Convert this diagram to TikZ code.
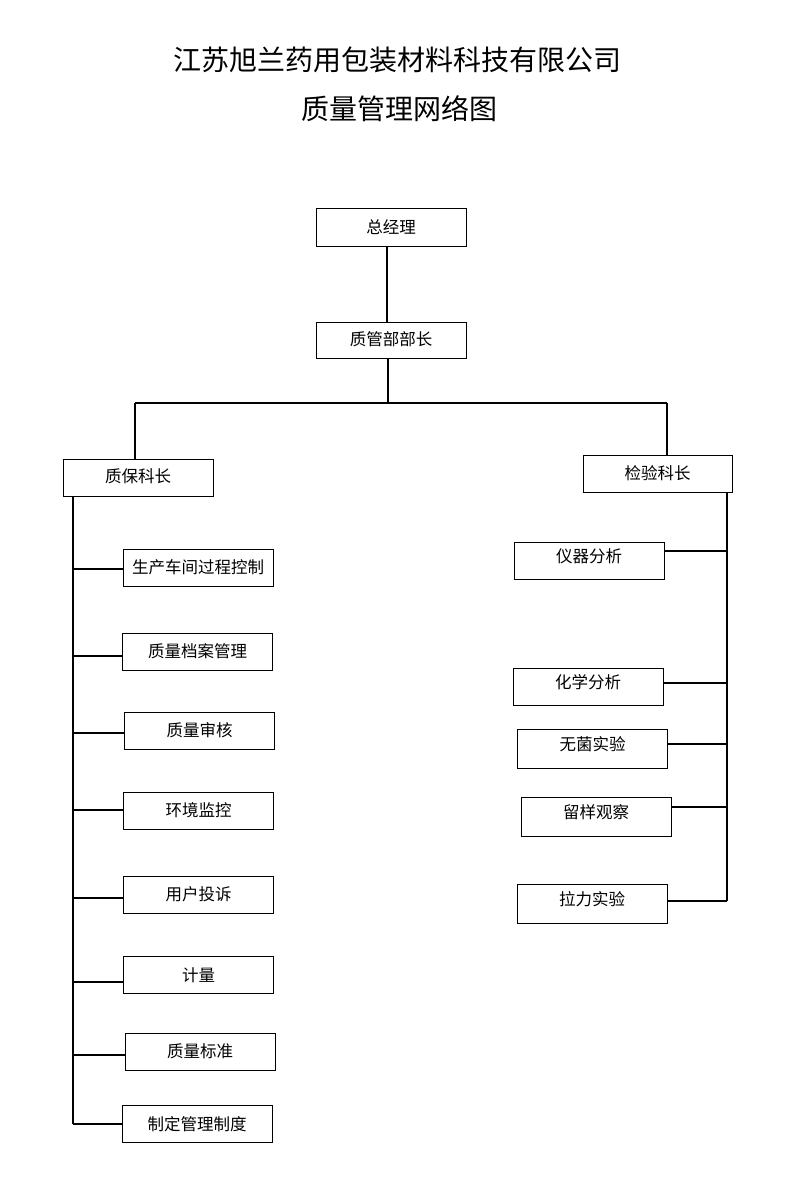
\documentclass[tikz,border=0pt]{standalone}
\usepackage{fontspec}
\setmainfont{Noto Sans CJK SC}
\begin{document}
\begin{tikzpicture}[x=1pt,y=-1pt,
  box/.style={draw=black, line width=1pt, fill=white, inner sep=0pt,
    minimum width=150pt, minimum height=37pt, font=\fontsize{16.5pt}{18pt}\selectfont},
  hi/.style={text height=9pt, text depth=5.4pt},
  conn/.style={draw=black, line width=1.2pt},
  ttl/.style={font=\fontsize{28pt}{30pt}\selectfont, inner sep=0pt}]
\useasboundingbox (0,0) rectangle (800,1195);
\fill[white] (0,0) rectangle (800,1195);

\node[ttl] (t1) at (397,60) {江苏旭兰药用包装材料科技有限公司};
\node[ttl] (t2) at (399,109) {质量管理网络图};

\node[box, minimum height=38pt] (gm) at (391,227) {总经理};
\node[box, minimum height=36pt] (qm) at (391,340) {\raisebox{3pt}{质管部部长}};
\node[box] (zb) at (138,477.5) {\raisebox{3.5pt}{质保科长}};
\node[box, minimum width=149pt] (jy) at (657.5,473.5) {检验科长};

% left children
\node[box] (l1) at (198,567.5) {生产车间过程控制};
\node[box] (l2) at (197.5,651.5) {质量档案管理};
\node[box] (l3) at (199.5,730.5) {质量审核};
\node[box] (l4) at (198.5,810.5) {环境监控};
\node[box] (l5) at (198.5,894.5) {用户投诉};
\node[box] (l6) at (198.5,975) {计量};
\node[box] (l7) at (200,1051.5) {质量标准};
\node[box] (l8) at (197,1124) {制定管理制度};

% right children
\node[box, hi] (r1) at (589,560.5) {仪器分析};
\node[box, hi] (r2) at (588,686.5) {化学分析};
\node[box, hi, minimum height=39pt] (r3) at (592.5,748.5) {无菌实验};
\node[box, hi, minimum height=39pt] (r4) at (596,816.5) {留样观察};
\node[box, hi, minimum height=39pt] (r5) at (592,903.5) {拉力实验};

% trunk coordinates
\coordinate (bus) at (388,403);
\coordinate (busL) at (135,403);
\coordinate (busR) at (667,403);
\coordinate (lt) at (73,1124);
\coordinate (rt) at (727,901);

\draw[conn] (gm.south -| 387,0) -- (qm.north -| 387,0);
\draw[conn] (qm.south -| bus) -- (bus);
\draw[conn] (busL) -- (busR);
\draw[conn] (busL) -- (busL |- zb.north);
\draw[conn] (busR) -- (busR |- jy.north);

% left trunk
\draw[conn] (zb.south -| lt) -- (lt);
\draw[conn] (lt |- 0,569) -- (l1.west |- 0,569);
\draw[conn] (lt |- 0,656) -- (l2.west |- 0,656);
\draw[conn] (lt |- 0,733) -- (l3.west |- 0,733);
\draw[conn] (lt |- 0,810) -- (l4.west |- 0,810);
\draw[conn] (lt |- 0,898) -- (l5.west |- 0,898);
\draw[conn] (lt |- 0,982) -- (l6.west |- 0,982);
\draw[conn] (lt |- 0,1055) -- (l7.west |- 0,1055);
\draw[conn] (lt) -- (l8.west |- lt);

% right trunk
\draw[conn] (jy.south -| rt) -- (rt);
\draw[conn] (r1.east |- 0,551) -- (rt |- 0,551);
\draw[conn] (r2.east |- 0,683) -- (rt |- 0,683);
\draw[conn] (r3.east |- 0,744) -- (rt |- 0,744);
\draw[conn] (r4.east |- 0,807) -- (rt |- 0,807);
\draw[conn] (r5.east |- rt) -- (rt);
\end{tikzpicture}
\end{document}
